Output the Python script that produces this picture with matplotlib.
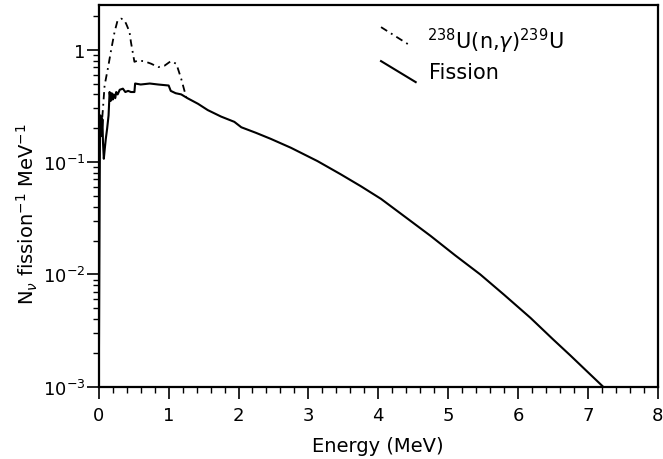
import matplotlib
matplotlib.use("Agg")
import matplotlib.pyplot as plt
from matplotlib.ticker import MultipleLocator, LogLocator, FixedLocator, NullFormatter

# fission curve
fis_e = [0.0, 0.005, 0.012, 0.018, 0.025, 0.032, 0.038, 0.045, 0.052, 0.06, 0.072,
         0.085, 0.1, 0.12, 0.14, 0.155, 0.17, 0.185, 0.2, 0.215, 0.235, 0.25, 0.27,
         0.3, 0.345, 0.38, 0.42, 0.46, 0.51, 0.52, 0.6, 0.73, 0.85, 1.0, 1.03, 1.1,
         1.18, 1.27, 1.42, 1.56, 1.75, 1.94, 2.04, 2.25, 2.46, 2.75, 3.13, 3.46,
         3.75, 4.04, 4.4, 4.75, 5.1, 5.46, 5.8, 6.18, 6.5, 6.75, 7.0, 7.22]
fis_n = [0.001, 0.005, 0.05, 0.2, 0.26, 0.17, 0.25, 0.2, 0.24, 0.15, 0.107,
         0.13, 0.16, 0.2, 0.26, 0.42, 0.35, 0.41, 0.36, 0.40, 0.37, 0.42, 0.40,
         0.44, 0.45, 0.42, 0.43, 0.42, 0.42, 0.50, 0.49, 0.50, 0.49, 0.48, 0.43, 0.41,
         0.40, 0.37, 0.33, 0.29, 0.254, 0.228, 0.204, 0.182, 0.161, 0.134, 0.102, 0.078,
         0.061, 0.047, 0.032, 0.022, 0.0148, 0.0100, 0.0066, 0.0041, 0.00265, 0.0019, 0.00135, 0.001]

# 238U(n,gamma) capture curve
cap_e = [0.05, 0.06, 0.083, 0.13, 0.18, 0.226, 0.27, 0.32, 0.36, 0.39, 0.44, 0.46,
         0.51, 0.56, 0.65, 0.75, 0.85, 0.94, 1.03, 1.11, 1.18, 1.25]
cap_n = [0.25, 0.30, 0.48, 0.68, 1.02, 1.44, 1.83, 1.89, 1.85, 1.71, 1.44, 1.17,
         0.78, 0.80, 0.79, 0.75, 0.70, 0.72, 0.79, 0.75, 0.55, 0.38]

xticks = [0, 1, 2, 3, 4, 5, 6, 7, 8]
yticks = [1e-3, 1e-2, 1e-1, 1]
ytick_labels = ["10$^{-3}$", "10$^{-2}$", "10$^{-1}$", "1"]

plt.rcParams['font.family'] = ['DejaVu Sans']
fig = plt.figure(figsize=(6.63, 4.60), dpi=100)
ax = fig.add_axes([0.149, 0.157, 0.843, 0.83])

ax.plot(cap_e, cap_n, color='black', lw=1.3, linestyle=(0, (4, 2.5, 1, 2.5)))
ax.plot(fis_e, fis_n, color='black', lw=1.5)

ax.set_yscale('log')
ax.set_xlim(0, 8)
ax.set_ylim(1e-3, 2.5)

ax.xaxis.set_major_locator(FixedLocator(xticks))
ax.xaxis.set_minor_locator(MultipleLocator(0.2))
ax.set_yticks(yticks)
ax.set_yticklabels(ytick_labels)
ax.yaxis.set_minor_locator(LogLocator(base=10, subs=range(2, 10)))
ax.yaxis.set_minor_formatter(NullFormatter())

ax.tick_params(which='major', direction='out', length=8.6, width=1.2, labelsize=13, pad=1)
ax.tick_params(which='minor', direction='out', length=4.3, width=1.0)
ax.tick_params(axis='x', which='major', pad=5)
for s in ax.spines.values():
    s.set_linewidth(1.6)

ax.set_xlabel("Energy (MeV)", fontsize=14, labelpad=9)
ax.set_ylabel("N$_\\nu$ fission$^{-1}$ MeV$^{-1}$", fontsize=14)
ax.yaxis.set_label_coords(-0.105, 0.455)

# legend drawn by hand, with slanted keys
ax.plot([0.505, 0.558], [0.942, 0.893], transform=ax.transAxes, color='black',
        lw=1.3, linestyle=(0, (4, 2.5, 1, 2.5)))
ax.plot([0.505, 0.567], [0.853, 0.798], transform=ax.transAxes, color='black', lw=1.5)
ax.text(0.588, 0.908, "$^{238}$U(n,$\\gamma$)$^{239}$U", transform=ax.transAxes,
        fontsize=15, va='center', ha='left')
ax.text(0.59, 0.825, "Fission", transform=ax.transAxes,
        fontsize=15, va='center', ha='left')

fig.savefig("out.png", dpi=100)
